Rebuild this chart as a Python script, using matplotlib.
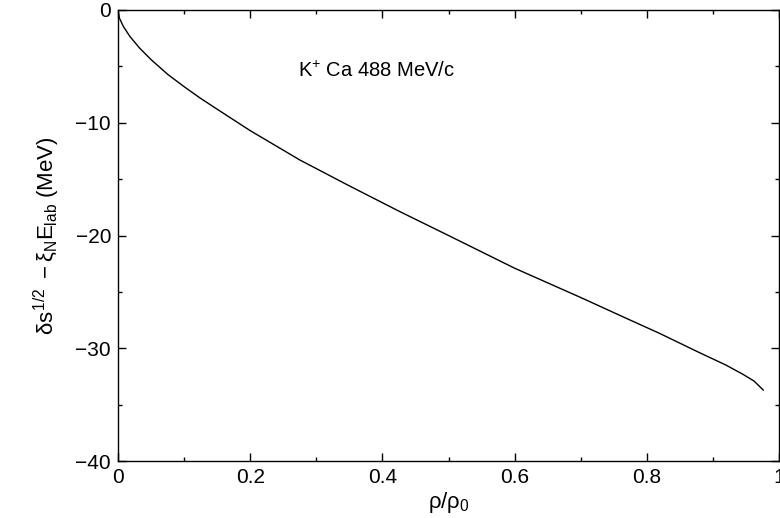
import matplotlib
matplotlib.use("Agg")
import matplotlib.pyplot as plt
from matplotlib.ticker import MultipleLocator

plt.rcParams['font.family'] = ['Liberation Sans', 'DejaVu Sans']
plt.rcParams['mathtext.fontset'] = 'custom'
plt.rcParams['mathtext.rm'] = 'Liberation Sans'
plt.rcParams['mathtext.it'] = 'Liberation Sans'
plt.rcParams['mathtext.bf'] = 'Liberation Sans:bold'

# curve
rho = [0.0, 0.002, 0.008, 0.018, 0.033, 0.05, 0.075, 0.1, 0.124, 0.15, 0.2,
       0.275, 0.35, 0.427, 0.5, 0.6, 0.7, 0.771, 0.82, 0.88, 0.92, 0.945, 0.962, 0.976]
dE = [0.0, -0.7, -1.45, -2.35, -3.4, -4.4, -5.7, -6.8, -7.8, -8.8, -10.7,
      -13.3, -15.6, -17.9, -20.0, -22.9, -25.5, -27.4, -28.7, -30.4, -31.5, -32.3, -32.9, -33.7]

xticks = [0, 0.2, 0.4, 0.6, 0.8, 1]
xticklabels = ["0", "0.2", "0.4", "0.6", "0.8", "1"]
yticks = [0, -10, -20, -30, -40]

fig = plt.figure(figsize=(7.8, 5.18), dpi=100)
ax = fig.add_axes([0.1513, 0.110, 0.8475, 0.8707])

ax.plot(rho, dE, color='black', lw=1.0)

ax.set_xlim(0, 1)
ax.set_ylim(-40, 0)
ax.set_xticks(xticks)
ax.set_xticklabels(xticklabels)
ax.set_yticks(yticks)
ax.set_yticklabels(["0", "\u221210", "\u221220", "\u221230", "\u221240"])
ax.xaxis.set_minor_locator(MultipleLocator(0.1))
ax.yaxis.set_minor_locator(MultipleLocator(5))
ax.tick_params(which='both', direction='in', top=True, right=True, labelsize=15, width=1.0)
ax.tick_params(which='major', length=6, pad=5)
ax.tick_params(which='minor', length=3)
for s in ax.spines.values():
    s.set_linewidth(1.0)

ax.text(0.272, -5.9, r"K$^{+}$ Ca 488 MeV/c", fontsize=14.5)

ax.set_xlabel(r"$\rho/\rho_0$", fontsize=16, labelpad=2)
ax.set_ylabel(r"$\delta s^{1/2}\ -\xi_N E_{lab}$ (MeV)", fontsize=16, labelpad=10)

fig.savefig("out.png", dpi=100)
